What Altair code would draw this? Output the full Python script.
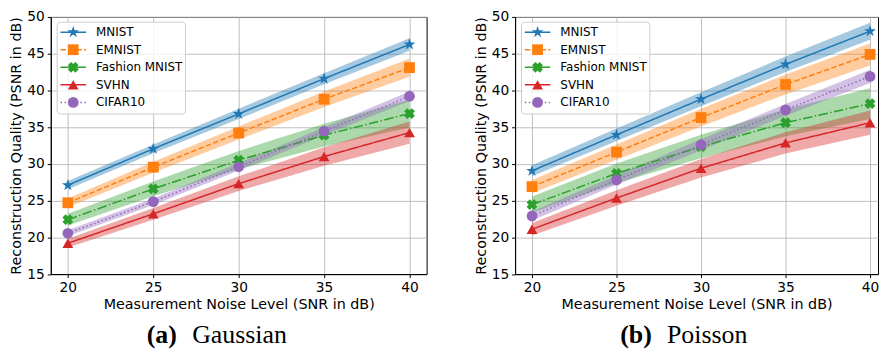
import altair as alt
import pandas as pd

snr = [20, 25, 30, 35, 40]
series = ["MNIST", "EMNIST", "Fashion MNIST", "SVHN", "CIFAR10"]
colors = ["#1f77b4", "#ff7f0e", "#2ca02c", "#d62728", "#9467bd"]

# Gaussian noise: mean PSNR
g_mnist = [27.1, 32.05, 36.8, 41.6, 46.25]
g_emnist = [24.7, 29.55, 34.2, 38.8, 43.1]
g_fashion = [22.4, 26.6, 30.5, 33.9, 36.85]
g_svhn = [19.2, 23.2, 27.3, 31.0, 34.25]
g_cifar = [20.55, 24.85, 29.6, 34.45, 39.2]
# Gaussian noise: half-width of shaded band
g_mnist_sd = [0.55, 0.6, 0.7, 0.75, 0.85]
g_emnist_sd = [0.6, 0.75, 0.9, 1.05, 1.25]
g_fashion_sd = [0.8, 1.0, 1.25, 1.55, 1.9]
g_svhn_sd = [0.6, 0.8, 1.0, 1.25, 1.5]
g_cifar_sd = [0.4, 0.45, 0.5, 0.55, 0.65]

# Poisson noise: mean PSNR
p_mnist = [29.05, 33.95, 38.8, 43.55, 48.05]
p_emnist = [26.9, 31.6, 36.3, 40.8, 44.9]
p_fashion = [24.45, 28.7, 32.35, 35.6, 38.2]
p_svhn = [21.1, 25.35, 29.4, 32.85, 35.6]
p_cifar = [22.9, 27.8, 32.6, 37.35, 41.9]
# Poisson noise: half-width of shaded band
p_mnist_sd = [0.75, 0.85, 0.95, 1.05, 1.15]
p_emnist_sd = [0.9, 1.05, 1.2, 1.35, 1.5]
p_fashion_sd = [1.1, 1.35, 1.6, 1.85, 2.1]
p_svhn_sd = [0.85, 1.05, 1.25, 1.45, 1.65]
p_cifar_sd = [0.6, 0.65, 0.75, 0.8, 0.9]

captions = [("(a)", "Gaussian"), ("(b)", "Poisson")]
x_title = "Measurement Noise Level (SNR in dB)"
y_title = "Reconstruction Quality (PSNR in dB)"
y_ticks = [15, 20, 25, 30, 35, 40, 45, 50]

STAR = ("M0,-1.15L0.258,-0.354L1.094,-0.355L0.416,0.136L0.676,0.93L0,0.438"
        "L-0.676,0.93L-0.416,0.136L-1.094,-0.355L-0.258,-0.354Z")
XSHAPE = ("M-1,-0.4L-0.4,-1L0,-0.6L0.4,-1L1,-0.4L0.6,0L1,0.4L0.4,1L0,0.6"
          "L-0.4,1L-1,0.4L-0.6,0Z")
shapes = [STAR, "square", XSHAPE, "triangle-up", "circle"]
dashes = [[1, 0], [5.5, 2.4], [9.6, 2.4, 1.5, 2.4], [1, 0], [1.5, 2.5]]

color_scale = alt.Scale(domain=series, range=colors)
shape_scale = alt.Scale(domain=series, range=shapes)
dash_scale = alt.Scale(domain=series, range=dashes)

FONT = "DejaVu Sans"
SERIF = "Liberation Serif"
H = 258.6
CAP_Y = 328.3


def make_df(means, sds):
    rows = []
    for name, m, s in zip(series, means, sds):
        for x, v, d in zip(snr, m, s):
            rows.append({"snr": x, "series": name, "psnr": v, "lo": v - d, "hi": v + d})
    return pd.DataFrame(rows)


def panel(means, sds, cap, cap_x, xmax, width):
    df = make_df(means, sds)
    x = alt.X("snr:Q", scale=alt.Scale(domain=[19, xmax], nice=False, zero=False),
              axis=alt.Axis(values=snr, title=x_title, grid=True))
    ysc = alt.Scale(domain=[15, 50], nice=False, zero=False)
    yax = alt.Axis(values=y_ticks, title=y_title, grid=True)
    y = alt.Y("psnr:Q", scale=ysc, axis=yax)
    col = alt.Color("series:N", scale=color_scale, legend=None)
    base = alt.Chart(df)
    band = base.mark_area(opacity=0.4).encode(
        x=x, y=alt.Y("lo:Q", scale=ysc, axis=yax),
        y2="hi:Q", color=col, detail="series:N")
    line = base.mark_line(strokeWidth=1.5).encode(
        x=x, y=y, color=col,
        strokeDash=alt.StrokeDash("series:N", scale=dash_scale, legend=None))
    pts = base.mark_point(filled=True, opacity=1, size=118).encode(
        x=x, y=y, color=col,
        shape=alt.Shape("series:N", scale=shape_scale, legend=None))
    main = alt.layer(band, line, pts)

    ldf = pd.DataFrame({"series": series, "row": list(range(len(series)))})
    ly = alt.Y("row:Q", scale=alt.Scale(domain=[0, 4], range=[15.3, 86]), axis=None)
    box = alt.Chart(ldf.head(1)).mark_rect(
        fill="white", fillOpacity=0.8, stroke="#cccccc", strokeWidth=1, cornerRadius=3
    ).encode(x=alt.value(6.5), x2=alt.value(135.5), y=alt.value(5.3), y2=alt.value(97.6))
    lrule = alt.Chart(ldf).mark_rule(strokeWidth=1.5).encode(
        x=alt.value(9.8), x2=alt.value(35.5), y=ly, color=col,
        strokeDash=alt.StrokeDash("series:N", scale=dash_scale, legend=None))
    lpts = alt.Chart(ldf).mark_point(filled=True, opacity=1, size=118).encode(
        x=alt.value(22.6), y=ly, color=col,
        shape=alt.Shape("series:N", scale=shape_scale, legend=None))
    ltxt = alt.Chart(ldf).mark_text(align="left", baseline="middle", font=FONT,
                                    fontSize=12, color="black").encode(
        x=alt.value(45.5), y=ly, text="series:N")
    legend = alt.layer(box, lrule, lpts, ltxt)

    one = pd.DataFrame({"k": [0]})
    c1 = alt.Chart(one).mark_text(text=cap[0], font=SERIF, fontSize=26,
                                  fontWeight="bold", align="left", baseline="alphabetic",
                                  color="black").encode(x=alt.value(cap_x[0]), y=alt.value(CAP_Y))
    c2 = alt.Chart(one).mark_text(text=cap[1], font=SERIF, fontSize=26,
                                  align="left", baseline="alphabetic",
                                  color="black").encode(x=alt.value(cap_x[1]), y=alt.value(CAP_Y))

    return alt.layer(main, legend, c1, c2).resolve_scale(y="independent").properties(
        width=width, height=H)


left = panel([g_mnist, g_emnist, g_fashion, g_svhn, g_cifar],
             [g_mnist_sd, g_emnist_sd, g_fashion_sd, g_svhn_sd, g_cifar_sd],
             captions[0], (96.5, 142.2), 41, 378)
right = panel([p_mnist, p_emnist, p_fashion, p_svhn, p_cifar],
              [p_mnist_sd, p_emnist_sd, p_fashion_sd, p_svhn_sd, p_cifar_sd],
              captions[1], (105.7, 152.7), 40.47, 365)

chart = alt.hconcat(left, right, spacing=45).properties(
    padding={"left": 0, "top": 0, "right": 0, "bottom": 0}
).configure_view(stroke="black", strokeWidth=1).configure_axis(
    domainColor="black", tickColor="black", tickSize=3.5, tickWidth=1,
    gridColor="#b0b0b0", gridWidth=0.8,
    labelFont=FONT, labelFontSize=13.8, labelColor="black", labelPadding=3,
    titleFont=FONT, titleFontSize=14.4, titleFontWeight="normal", titleColor="black",
    titlePadding=3,
)

chart.save("out.html", embed_options={"renderer": "svg", "actions": False})
